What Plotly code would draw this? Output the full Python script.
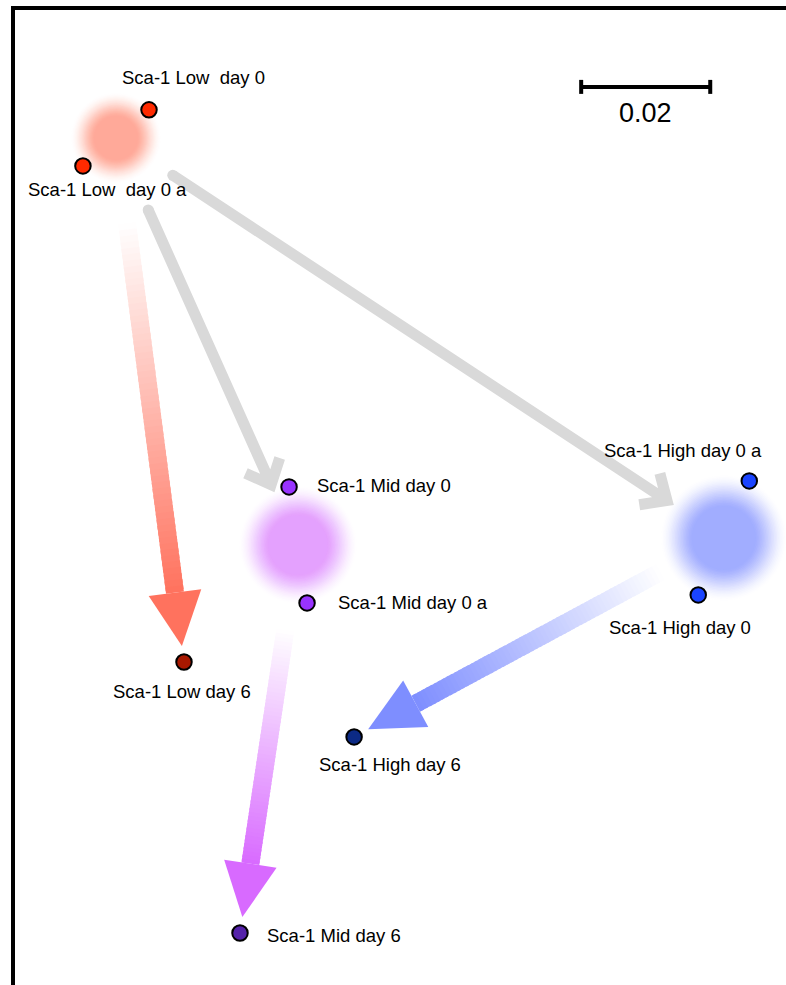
import numpy as np
import plotly.graph_objects as go

# ---- sample positions on the two MDS dimensions ----
labels = ["Sca-1 Low  day 0", "Sca-1 Low  day 0 a",
          "Sca-1 Mid day 0", "Sca-1 Mid day 0 a",
          "Sca-1 High day 0 a", "Sca-1 High day 0",
          "Sca-1 Low day 6", "Sca-1 High day 6", "Sca-1 Mid day 6"]
dim1 = [-0.03891, -0.04915, -0.01721, -0.01442, 0.05411, 0.04620,
        -0.03349, -0.00713, -0.02481]
dim2 = [0.06047, 0.05178, 0.00202, -0.01597, 0.00295, -0.01473,
        -0.02512, -0.03674, -0.06713]
point_colors = ["#ff2a00", "#ff2a00", "#9933ff", "#9933ff", "#1a44ff", "#1a44ff",
                "#a81800", "#0c2a85", "#5522aa"]

# replicate pairs at day 0 and the matching day-6 sample per group
groups = ["Low", "Mid", "High"]
day0_pairs = {"Low": (0, 1), "Mid": (2, 3), "High": (4, 5)}
day6_index = {"Low": 6, "Mid": 8, "High": 7}

scale_value = 0.02

# ---- styling ----
glow_color = {"Low": (255, 168, 152), "Mid": (228, 160, 253), "High": (160, 172, 255)}
glow_radii = {"Low": (22, 46), "Mid": (30, 60), "High": (32, 64)}
arrow_color = {"Low": (255, 114, 94), "Mid": (216, 106, 255), "High": (126, 142, 255)}
arrow_start_gap = {"Low": 86, "Mid": 86, "High": 72}

W, H = 786, 985
X0, X1 = -0.0620, 0.0598
Y0, Y1 = -0.0752, 0.0775
SX = W / (X1 - X0)
SY = H / (Y1 - Y0)
FONT = "Liberation Sans, Arial, sans-serif"


def to_px(x, y):
    return np.array([(x - X0) * SX, (Y1 - y) * SY])


def to_data(p):
    return (p[0] / SX + X0, Y1 - p[1] / SY)


def path_from_px(pts, close=True):
    parts = []
    for k, p in enumerate(pts):
        x, y = to_data(p)
        parts.append(("M" if k == 0 else "L") + f"{x:.6f},{y:.6f}")
    return " ".join(parts) + (" Z" if close else "")


centroid = {}
for g in groups:
    i, j = day0_pairs[g]
    centroid[g] = ((dim1[i] + dim1[j]) / 2, (dim2[i] + dim2[j]) / 2)

fig = go.Figure()
shapes = []

# ---- soft group centroids ----
N_GLOW = 22
for g in groups:
    r_in, r_out = glow_radii[g]
    cx, cy = centroid[g]
    sizes, cols = [], []
    prev = 0.0
    for k in range(1, N_GLOW + 1):
        u = k / N_GLOW
        c = u * u * (3 - 2 * u)
        a = 1.0 if k == N_GLOW else 1 - (1 - c) / (1 - prev)
        prev = c
        r = r_out - (r_out - r_in) * (k - 1) / (N_GLOW - 1)
        sizes.append(2 * r)
        rr, gg, bb = glow_color[g]
        cols.append(f"rgba({rr},{gg},{bb},{a:.4f})")
    fig.add_trace(go.Scatter(x=[cx] * N_GLOW, y=[cy] * N_GLOW, mode="markers",
                             marker=dict(size=sizes, color=cols, line=dict(width=0)),
                             hoverinfo="skip", showlegend=False))

# ---- grey transition arrows between day-0 centroids ----
GREY = "#d9d9d9"
grey_arrows = [("Low", "Mid", 79, 66), ("Low", "High", 68, 68)]
cap_x, cap_y = [], []


def rot(v, th):
    return np.array([v[0] * np.cos(th) - v[1] * np.sin(th),
                     v[0] * np.sin(th) + v[1] * np.cos(th)])


for src, dst, gap0, gap1 in grey_arrows:
    a = to_px(*centroid[src])
    b = to_px(*centroid[dst])
    d = (b - a) / np.linalg.norm(b - a)
    s = a + d * gap0
    t = b - d * gap1
    ang = np.radians(42)
    arm1 = t + rot(-d, ang) * 28
    arm2 = t + rot(-d, -ang) * 28
    sx_, sy_ = to_data(s)
    tx_, ty_ = to_data(t)
    a1 = to_data(arm1)
    a2 = to_data(arm2)
    shapes.append(dict(type="path", layer="below",
                       path=f"M{sx_},{sy_} L{tx_},{ty_} M{a1[0]},{a1[1]} L{tx_},{ty_} L{a2[0]},{a2[1]}",
                       line=dict(color=GREY, width=11)))
    cap_x.append(sx_)
    cap_y.append(sy_)
fig.add_trace(go.Scatter(x=cap_x, y=cap_y, mode="markers",
                         marker=dict(size=11, color=GREY, line=dict(width=0)),
                         hoverinfo="skip", showlegend=False))

# ---- fading arrows from day-0 centroid to day-6 sample ----
N_SEG = 60
for g in groups:
    a = to_px(*centroid[g])
    k6 = day6_index[g]
    p6 = to_px(dim1[k6], dim2[k6])
    d = (p6 - a) / np.linalg.norm(p6 - a)
    n = np.array([-d[1], d[0]])
    start = a + d * arrow_start_gap[g]
    tip = p6 - d * 16
    head_len, head_w, shaft_w = 54, 53, 18
    base = tip - d * head_len
    full = np.array(arrow_color[g], dtype=float)
    for i in range(N_SEG):
        t0 = i / N_SEG
        t1 = min((i + 1.6) / N_SEG, 1.0)
        p0 = start + (base - start) * t0
        p1 = start + (base - start) * t1
        tm = (i + 0.5) / N_SEG
        col = 255 + (full - 255) * tm
        quad = [p0 + n * shaft_w / 2, p1 + n * shaft_w / 2,
                p1 - n * shaft_w / 2, p0 - n * shaft_w / 2]
        shapes.append(dict(type="path", layer="below", path=path_from_px(quad),
                           fillcolor=f"rgb({col[0]:.0f},{col[1]:.0f},{col[2]:.0f})",
                           line=dict(width=0)))
    head = [base + n * head_w / 2, tip, base - n * head_w / 2]
    shapes.append(dict(type="path", layer="below", path=path_from_px(head),
                       fillcolor=f"rgb({full[0]:.0f},{full[1]:.0f},{full[2]:.0f})",
                       line=dict(width=0)))

# ---- sample points ----
fig.add_trace(go.Scatter(x=dim1, y=dim2, mode="markers",
                         marker=dict(size=15.5, color=point_colors,
                                     line=dict(color="black", width=2)),
                         hoverinfo="skip", showlegend=False))

# ---- labels ----
label_offsets = [  # (xshift px, yshift px, xanchor)
    (44, 32, "center"), (25, -24, "center"),
    (26, 1, "left"), (29, 0, "left"),
    (-66, 30, "center"), (-18, -33, "center"),
    (-2, -30, "center"), (36, -28, "center"), (25, -3, "left"),
]
annotations = []
for k, txt in enumerate(labels):
    dx, dy, anc = label_offsets[k]
    annotations.append(dict(x=dim1[k], y=dim2[k], xref="x", yref="y", text=txt,
                            showarrow=False, xanchor=anc, yanchor="middle",
                            xshift=dx, yshift=dy,
                            font=dict(family=FONT, size=18.5, color="black")))

# ---- scale bar ----
sb_x0, sb_y = 0.02806, 0.06403
sb_x1 = sb_x0 + scale_value
tick_h = 7 / SY
shapes.append(dict(type="line", x0=sb_x0, x1=sb_x1, y0=sb_y, y1=sb_y,
                   line=dict(color="black", width=4)))
for xv in (sb_x0, sb_x1):
    shapes.append(dict(type="line", x0=xv, x1=xv, y0=sb_y - tick_h, y1=sb_y + tick_h,
                       line=dict(color="black", width=4)))
annotations.append(dict(x=(sb_x0 + sb_x1) / 2, y=sb_y, xref="x", yref="y",
                        text=f"{scale_value}", showarrow=False, yshift=-26,
                        xanchor="center", yanchor="middle",
                        font=dict(family=FONT, size=27, color="black")))

# ---- frame lines on left and top ----
shapes.append(dict(type="line", xref="paper", yref="paper", x0=13 / W, x1=13 / W,
                   y0=0, y1=1 - 6 / H, line=dict(color="black", width=4)))
shapes.append(dict(type="line", xref="paper", yref="paper", x0=11 / W, x1=1,
                   y0=1 - 8 / H, y1=1 - 8 / H, line=dict(color="black", width=4)))

fig.update_layout(
    width=W, height=H, margin=dict(l=0, r=0, t=0, b=0),
    paper_bgcolor="white", plot_bgcolor="white",
    xaxis=dict(range=[X0, X1], visible=False, fixedrange=True),
    yaxis=dict(range=[Y0, Y1], visible=False, fixedrange=True),
    shapes=shapes, annotations=annotations, showlegend=False,
)

fig.write_html("out.html")
